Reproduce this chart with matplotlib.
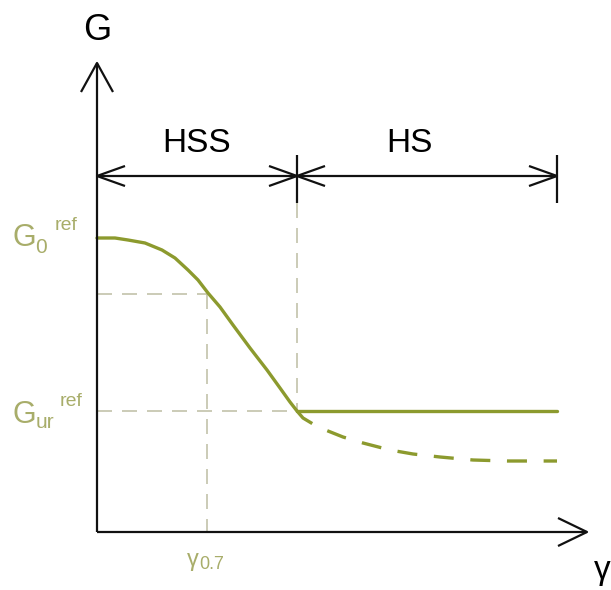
import matplotlib.pyplot as plt

plt.rcParams['font.family'] = ['Liberation Sans', 'DejaVu Sans']

# curve (pixel-like coordinates, y downwards)
hss_x = [97, 115, 128, 145, 162, 175, 188, 198, 208, 220, 233, 250, 267, 280, 290, 297]
hss_g = [238, 238, 240, 243, 250, 258, 270, 280, 293, 307, 325, 348, 370, 388, 402, 411]
hs_x = [297, 557]
hs_g = [411, 411]
hss_tail_x = [297, 303, 313, 323, 343, 363, 390, 413, 440, 473, 507, 557]
hss_tail_g = [411, 418, 424, 429, 437, 443, 450, 454, 457, 460, 461, 461]

x0, y0 = 97, 532          # origin of the axes
g07 = 294
gur_ref = 411
gamma07 = 207
gamma_hs = 297
gamma_end = 557

olive = '#8c9a2e'
text_olive = '#a8ad6a'
guide = '#c2c2aa'

fig = plt.figure(figsize=(6.11, 5.90), dpi=100)
ax = fig.add_axes([0, 0, 1, 1])
ax.set_xlim(0, 611)
ax.set_ylim(590, 0)
ax.axis('off')

# guide lines
dash = dict(color=guide, lw=1.2, dashes=(9, 6))
ax.plot([x0, gamma07], [g07, g07], **dash)
ax.plot([gamma07, gamma07], [g07, y0], **dash)
ax.plot([x0, gamma_hs], [gur_ref, gur_ref], **dash)
ax.plot([gamma_hs, gamma_hs], [203, gur_ref], **dash)

# curves
ax.plot(hss_x, hss_g, color=olive, lw=2.4, solid_capstyle='round', solid_joinstyle='round')
ax.plot(hs_x, hs_g, color=olive, lw=2.4, solid_capstyle='round')
ax.plot(hss_tail_x, hss_tail_g, color=olive, lw=2.4, dashes=(6, 5))

# axes
k = dict(color='#111111', lw=1.6, solid_capstyle='butt')
ax.plot([x0, x0], [y0, 63], **k)
ax.plot([81, x0, 113], [92, 63, 92], **k)
ax.plot([x0, 587], [y0, y0], **k)
ax.plot([558, 587, 558], [518, y0, 546], **k)

# dimension lines
yd = 176
ax.plot([x0, gamma_end], [yd, yd], **k)
ax.plot([gamma_hs, gamma_hs], [155, 203], **k)
ax.plot([gamma_end, gamma_end], [155, 203], **k)
ax.plot([125, x0, 125], [166, yd, 186], **k)
ax.plot([269, gamma_hs, 269], [166, yd, 186], **k)
ax.plot([325, gamma_hs, 325], [166, yd, 186], **k)
ax.plot([529, gamma_end, 529], [166, yd, 186], **k)

ax.text(197, 143, 'HSS', fontsize=24, ha='center', va='center')
ax.text(409, 143, 'HS', fontsize=24, ha='center', va='center')
ax.text(97, 30, 'G', fontsize=26, ha='center', va='center')
ax.text(594, 555, 'γ', fontsize=24, ha='left', va='top')

# labels on axes
ax.text(12, 246, 'G', fontsize=22, color=text_olive, va='baseline')
ax.text(35, 253, '0', fontsize=15, color=text_olive, va='baseline')
ax.text(55, 230, 'ref', fontsize=14, color=text_olive, va='baseline')
ax.text(12, 423, 'G', fontsize=22, color=text_olive, va='baseline')
ax.text(36, 428, 'ur', fontsize=15, color=text_olive, va='baseline')
ax.text(60, 406, 'ref', fontsize=14, color=text_olive, va='baseline')
ax.text(187, 566, 'γ', fontsize=17, color=text_olive, va='baseline')
ax.text(199, 569, '0.7', fontsize=13, color=text_olive, va='baseline')

fig.savefig('out.png', dpi=100)
